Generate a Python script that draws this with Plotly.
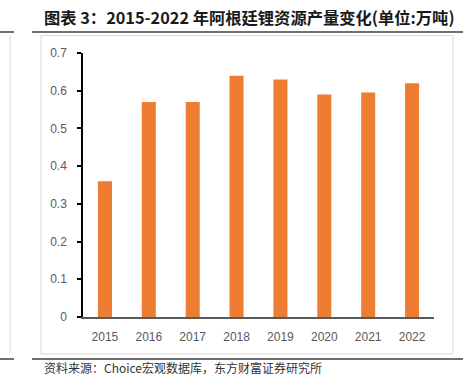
import plotly.graph_objects as go

years = ["2015", "2016", "2017", "2018", "2019", "2020", "2021", "2022"]
production = [0.36, 0.57, 0.57, 0.64, 0.63, 0.59, 0.595, 0.62]
y_ticks = [0, 0.1, 0.2, 0.3, 0.4, 0.5, 0.6, 0.7]
y_ticklabels = ["0", "0.1", "0.2", "0.3", "0.4", "0.5", "0.6", "0.7"]
title_text = "图表 3：2015-2022 年阿根廷锂资源产量变化(单位:万吨)"
source_text = "资料来源：Choice宏观数据库，东方财富证券研究所"

W, H = 466, 378
def px(x):
    return x / W
def py(y):
    return 1 - y / H

fig = go.Figure()
fig.add_trace(go.Bar(
    x=years, y=production,
    marker=dict(color="#ED7D31", line=dict(width=0)),
    width=0.32,
    hoverinfo="skip",
))

shapes = [
    dict(type="rect", xref="paper", yref="paper", x0=px(41), x1=px(453), y0=py(354), y1=py(35.5),
         line=dict(color="#D9D9D9", width=1), fillcolor="rgba(0,0,0,0)", layer="below"),
    dict(type="line", xref="paper", yref="paper", x0=px(32), x1=px(463), y0=py(32), y1=py(32),
         line=dict(color="#404040", width=1.5)),
    dict(type="line", xref="paper", yref="paper", x0=px(0), x1=px(14), y0=py(32), y1=py(32),
         line=dict(color="#404040", width=1.5)),
    dict(type="line", xref="paper", yref="paper", x0=px(32), x1=px(463), y0=py(359), y1=py(359),
         line=dict(color="#404040", width=1.5)),
    dict(type="line", xref="paper", yref="paper", x0=px(0), x1=px(14), y0=py(359), y1=py(359),
         line=dict(color="#404040", width=1.5)),
    dict(type="line", xref="paper", yref="paper", x0=px(10), x1=px(10), y0=py(36), y1=py(353),
         line=dict(color="#D9D9D9", width=1)),
]

annotations = [
    dict(text="<b>" + title_text + "</b>", xref="paper", yref="paper", x=px(42), y=py(17),
         xanchor="left", yanchor="middle", showarrow=False,
         font=dict(family="Noto Sans CJK SC", size=16.3, color="#1a1a1a")),
    dict(text=source_text, xref="paper", yref="paper", x=px(42), y=py(367),
         xanchor="left", yanchor="middle", showarrow=False,
         font=dict(family="Noto Sans CJK SC", size=12, color="#333333")),
]

fig.update_layout(
    width=W, height=H,
    template="none",
    margin=dict(l=0, r=0, t=0, b=0),
    paper_bgcolor="white", plot_bgcolor="white",
    showlegend=False,
    shapes=shapes, annotations=annotations,
    xaxis=dict(
        domain=[px(83), px(434)],
        type="category",
        showline=True, linecolor="#595959", linewidth=1.5,
        showgrid=False, zeroline=False, ticks="",
        tickfont=dict(family="Liberation Sans", size=12, color="#595959"),
        ticklabelstandoff=8,
        automargin=False,
    ),
    yaxis=dict(
        domain=[py(317), py(53)],
        range=[0, 0.7],
        tickvals=y_ticks, ticktext=y_ticklabels,
        showline=True, linecolor="#000000", linewidth=1.5,
        ticks="outside", ticklen=4, tickwidth=1.5, tickcolor="#000000",
        showgrid=False, zeroline=False,
        tickfont=dict(family="Liberation Sans", size=12, color="#595959"),
        ticklabelstandoff=8,
        automargin=False,
    ),
)

fig.write_html("out.html", config={"displayModeBar": False},
               post_script="document.body.style.margin='0';document.body.style.padding='0';")
